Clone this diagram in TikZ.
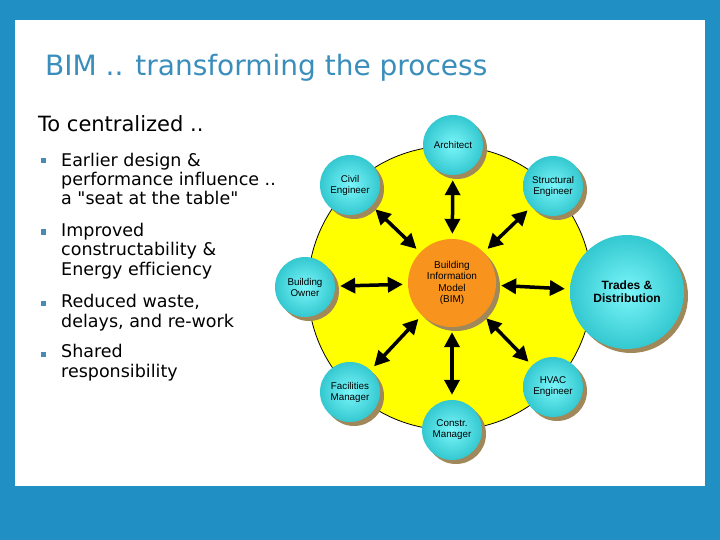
\documentclass[tikz,border=0pt]{standalone}
\usepackage{fontspec}
\setmainfont{DejaVu Sans}[Ligatures=NoCommon]
\newfontfamily\diagfont{Liberation Sans}
\usetikzlibrary{arrows.meta,shadows}
\definecolor{frameblue}{RGB}{32,144,196}
\definecolor{titleblue}{RGB}{58,142,188}
\definecolor{bulletblue}{RGB}{70,140,180}
\definecolor{hubyellow}{RGB}{255,255,0}
\definecolor{bimorange}{RGB}{248,148,30}
\definecolor{bubblein}{RGB}{122,246,250}
\definecolor{bubbleout}{RGB}{52,200,208}
\definecolor{shadowtan}{RGB}{160,136,90}

\begin{document}
\begin{tikzpicture}[
    x=1pt, y=-1pt,
    tanshadow/.style={drop shadow={shadow xshift=4pt, shadow yshift=-4pt,
                      fill=shadowtan, opacity=1}},
    bubble/.style={circle, minimum size=60pt, inner sep=0pt, inner color=bubblein,
                   outer color=bubbleout, tanshadow, align=center,
                   font=\diagfont\fontsize{9.8}{11}\selectfont},
    bigbubble/.style={bubble, minimum size=114pt,
                      font=\diagfont\bfseries\fontsize{12}{13}\selectfont},
    bim/.style={circle, minimum size=88pt, inner sep=0pt, fill=bimorange, tanshadow,
                align=center, font=\diagfont\fontsize{10}{11.5}\selectfont},
    hub/.style={circle, draw=black, line width=0.8pt, fill=hubyellow, minimum size=284pt},
    twoway/.style={{Triangle[length=15pt,width=15pt]}-{Triangle[length=15pt,width=15pt]},
                   line width=3.5pt, shorten <=5pt, shorten >=5pt},
    bul/.style={rectangle, fill=bulletblue, minimum size=5pt, inner sep=0pt},
    item/.style={anchor=base west, inner sep=0pt, align=left,
                 font=\fontsize{17.5}{19.5}\selectfont}
]
\useasboundingbox (0,0) rectangle (720,540);
\fill[frameblue] (0,0) rectangle (720,540);
\fill[white] (15,20) rectangle (705,486);

% heading and bullets (items sit on their last baseline)
\node[anchor=base west, inner sep=0pt, titleblue, font=\fontsize{28}{30}\selectfont]
    (title) at (45,76) {BIM .. transforming the process};
\node[anchor=base west, inner sep=0pt, font=\fontsize{21}{24}\selectfont]
    (lead) at (38,132) {To centralized ..};
\node[bul] (b1) at (43,161) {};
\node[bul] (b2) at (43,232) {};
\node[bul] (b3) at (43,303) {};
\node[bul] (b4) at (43,354) {};
\node[item] (i1) at (61,205) {Earlier design \&\\performance influence ..\\a \textquotedbl seat at the table\textquotedbl};
\node[item] (i2) at (61,275) {Improved\\constructability \&\\Energy efficiency};
\node[item] (i3) at (61,327) {Reduced waste,\\delays, and re-work};
\node[item] (i4) at (61,377) {Shared\\responsibility};

% the wheel
\node[hub] (hub) at (450,288) {};
\node[bim] (bim) at (452,283) {Building\\Information\\Model\\(BIM)};
\node[bubble] (arch) at (453,145) {Architect};
\node[bubble] (civil) at (350,185) {Civil\\Engineer};
\node[bubble] (struct) at (553,186) {Structural\\Engineer};
\node[bubble] (owner) at (305,287) {Building\\Owner};
\node[bigbubble] (trades) at (627,292) {Trades \&\\Distribution};
\node[bubble] (facil) at (350,392) {Facilities\\Manager};
\node[bubble] (hvac) at (553,387) {HVAC\\Engineer};
\node[bubble] (constr) at (452,430) {Constr.\\Manager};

\draw[twoway] (bim) -- (arch);
\draw[twoway] (bim) -- (civil);
\draw[twoway] (bim) -- (struct);
\draw[twoway] (bim) -- (owner);
\draw[twoway] (bim) -- (trades);
\draw[twoway] (bim) -- (facil);
\draw[twoway] (bim) -- (hvac);
\draw[twoway] (bim) -- (constr);
\end{tikzpicture}
\end{document}
